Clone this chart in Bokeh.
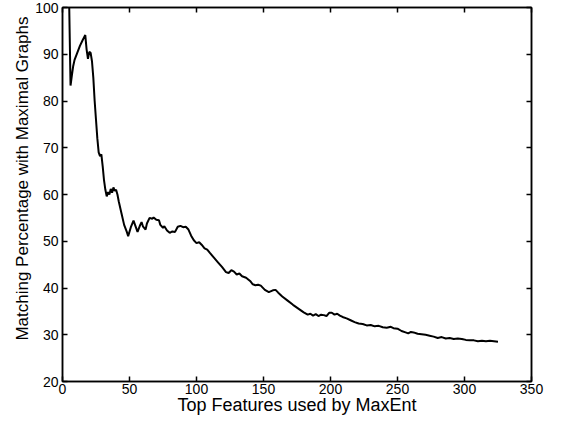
from bokeh.plotting import figure
from bokeh.models import LinearAxis, Range1d, FixedTicker, CustomLabelingPolicy, Title
from bokeh.embed import file_html
from bokeh.resources import INLINE

features = [5, 6, 7, 8, 9, 11, 13, 15, 17, 18, 19, 20, 21, 22, 23, 24, 25, 26, 27, 28,
            29, 30, 31, 32, 33, 34, 35, 36, 37, 38, 39, 40, 41, 42, 44, 46, 48, 49, 51, 53,
            55, 56, 58, 59, 60, 62, 63, 65, 67, 68, 70, 72, 73, 75, 76, 78, 80, 82, 84, 86,
            88, 90, 92, 94, 96, 98, 100, 102, 104, 106, 108, 110, 113, 116, 119, 122, 124, 126, 128, 130,
            132, 134, 137, 140, 142, 144, 146, 148, 151, 154, 157, 159, 161, 164, 168, 172, 176, 180, 183, 185,
            187, 189, 191, 193, 195, 197, 199, 201, 203, 205, 207, 209, 212, 215, 218, 221, 224, 227, 230, 233,
            236, 239, 242, 245, 247, 250, 253, 256, 258, 260, 262, 265, 268, 271, 274, 277, 280, 283, 286, 289,
            292, 295, 298, 301, 304, 307, 310, 313, 316, 319, 322, 325]
matching = [100.5, 83.3, 85.5, 87.5, 88.8, 90.3, 91.8, 93.0, 94.1, 91.0, 89.0, 90.5, 90.3, 88.5, 85.0, 80.0, 76.0, 72.0, 69.0, 68.2,
            68.6, 66.0, 63.0, 61.0, 59.6, 60.5, 60.0, 61.2, 60.4, 61.5, 60.8, 61.0, 60.0, 58.5, 56.0, 53.5, 52.0, 51.1, 53.0, 54.4,
            52.8, 52.0, 53.5, 54.1, 53.2, 52.5, 53.8, 55.0, 54.8, 55.1, 54.6, 54.5, 53.5, 52.9, 53.2, 52.3, 51.8, 52.1, 52.0, 53.1,
            53.3, 53.0, 53.1, 52.5, 51.2, 50.2, 49.6, 49.8, 49.2, 48.5, 48.2, 47.5, 46.5, 45.5, 44.5, 43.4, 43.2, 43.8, 43.5, 42.9,
            43.1, 42.5, 42.2, 41.5, 40.8, 40.6, 40.7, 40.5, 39.6, 39.1, 39.5, 39.6, 39.0, 38.2, 37.3, 36.4, 35.6, 34.8, 34.3, 34.5,
            34.1, 34.4, 34.0, 34.3, 34.2, 34.0, 34.7, 34.7, 34.3, 34.5, 34.1, 33.8, 33.5, 33.1, 32.7, 32.4, 32.3, 32.0, 32.1, 31.8,
            31.9, 31.6, 31.5, 31.7, 31.4, 31.3, 30.8, 30.5, 30.3, 30.6, 30.5, 30.2, 30.1, 30.0, 29.8, 29.6, 29.3, 29.5, 29.2, 29.3,
            29.1, 29.2, 29.1, 28.9, 28.8, 28.8, 28.6, 28.7, 28.6, 28.7, 28.6, 28.5]

x_ticks = [0, 50, 100, 150, 200, 250, 300, 350]
y_ticks = [20, 30, 40, 50, 60, 70, 80, 90, 100]
x_title = "Top Features used by MaxEnt"
y_title = "Matching Percentage with Maximal Graphs"

FONT = "Liberation Sans"

p = figure(width=549, height=417, output_backend="svg", toolbar_location=None,
           x_range=Range1d(0, 350), y_range=Range1d(20, 100),
           min_border_left=62, min_border_right=18, min_border_top=7, min_border_bottom=36)
p.xgrid.visible = False
p.ygrid.visible = False
p.outline_line_color = "black"
p.outline_line_width = 1.5
p.background_fill_color = "white"
p.border_fill_color = "white"

p.line(features, matching, line_color="black", line_width=2)

for ax in (p.xaxis[0], p.yaxis[0]):
    ax.major_tick_in = 5
    ax.major_tick_out = 0
    ax.minor_tick_in = 0
    ax.minor_tick_out = 0
    ax.axis_line_color = "black"
    ax.axis_line_width = 1.5
    ax.major_tick_line_width = 1.5
    ax.major_label_text_font = FONT
    ax.major_label_text_font_size = "14px"
    ax.major_label_text_color = "black"
    ax.axis_label_text_font = FONT
    ax.axis_label_text_font_size = "18px"
    ax.axis_label_text_font_style = "normal"
    ax.axis_label_text_color = "black"

p.xaxis[0].ticker = FixedTicker(ticks=x_ticks)
p.yaxis[0].ticker = FixedTicker(ticks=y_ticks)
p.xaxis[0].axis_label = x_title
p.xaxis[0].major_label_standoff = 2
p.yaxis[0].major_label_standoff = 4
p.xaxis[0].axis_label_standoff = -2

ytitle = Title(text=y_title, align="right", offset=9, standoff=2,
               text_font=FONT, text_font_size="17px", text_font_style="normal",
               text_color="black")
p.add_layout(ytitle, "left")

no_labels = "return []"
top = LinearAxis(ticker=FixedTicker(ticks=x_ticks), major_label_text_font_size="1px",
                 major_label_policy=CustomLabelingPolicy(code=no_labels),
                 major_label_standoff=0, major_tick_in=5, major_tick_out=0,
                 minor_tick_in=0, minor_tick_out=0, axis_line_width=1.5, major_tick_line_width=1.5)
right = LinearAxis(ticker=FixedTicker(ticks=y_ticks), major_label_text_font_size="1px",
                   major_label_policy=CustomLabelingPolicy(code=no_labels),
                   major_label_standoff=0, major_tick_in=5, major_tick_out=0,
                   minor_tick_in=0, minor_tick_out=0, axis_line_width=1.5, major_tick_line_width=1.5)
p.add_layout(top, "above")
p.add_layout(right, "right")

open("out.html", "w").write(file_html(p, INLINE))
